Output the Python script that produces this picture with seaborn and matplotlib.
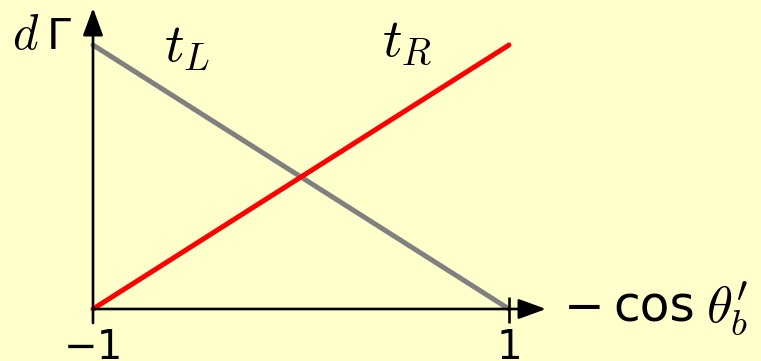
import matplotlib
matplotlib.use("Agg")
import matplotlib.pyplot as plt
import seaborn as sns
import pandas as pd

# Decay-rate shape versus -cos(theta'_b) for the two top helicities
x_vals = [-1, 1]
t_left = [1, 0]
t_right = [0, 1]
tick_vals = [-1, 1]
tick_labels = ["\u22121", "1"]

df = pd.DataFrame({
    "x": x_vals * 2,
    "rate": t_left + t_right,
    "helicity": ["L"] * 2 + ["R"] * 2,
})

BG = "#FFFFCC"
W, H = 761, 361
X0, Y0 = 93, 309          # pixel position of the origin (-1, 0)
SX, SY = 208, 264         # pixels per data unit


def px(u, v):
    """Pixel position -> data coordinates."""
    return -1 + (u - X0) / SX, (Y0 - v) / SY


sns.set_theme(style="white")
plt.rcParams["mathtext.fontset"] = "cm"
plt.rcParams["text.color"] = "black"

fig = plt.figure(figsize=(W / 100, H / 100), dpi=100, facecolor=BG)
ax = fig.add_axes([0, 0, 1, 1])
ax.set_facecolor(BG)
ax.axis("off")

sns.lineplot(data=df, x="x", y="rate", hue="helicity",
             palette={"L": "#808080", "R": "#FF0000"},
             linewidth=3.6, legend=False, ax=ax, zorder=3)

x_lo, y_hi = px(0, 0)
x_hi, y_lo = px(W, H)
ax.set_xlim(x_lo, x_hi)
ax.set_ylim(y_lo, y_hi)

axis_kw = dict(arrowstyle="-|>,head_length=0.6,head_width=0.22",
               color="black", lw=1.9, mutation_scale=28,
               shrinkA=0, shrinkB=0)
# horizontal axis
ax.annotate("", xy=px(546, Y0), xytext=(-1, 0), arrowprops=axis_kw, zorder=4)
# vertical axis
ax.annotate("", xy=px(X0, 8), xytext=px(X0, 323), arrowprops=axis_kw, zorder=4)

# tick mark at x = 1
for xv in tick_vals[1:]:
    ax.plot([xv, xv], [px(0, 297)[1], px(0, 323)[1]], color="black", lw=1.9,
            solid_capstyle="butt", zorder=4)

for xv, lab in zip(tick_vals, tick_labels):
    ax.text(xv, px(0, 359)[1], lab, ha="center", va="baseline", fontsize=29,
            family="DejaVu Sans", color="black")

# vertical axis label: d Gamma
ax.text(*px(12, 49), "$d$", fontsize=35, ha="left", va="baseline")
ax.text(*px(47, 49), "\u0393", fontsize=31, ha="left", va="baseline",
        family="DejaVu Sans")

# horizontal axis label: -cos theta'_b
ax.text(*px(564, 322), "\u2212", fontsize=35, ha="left", va="baseline",
        family="DejaVu Sans")
ax.text(*px(613, 322), "cos", fontsize=35, ha="left", va="baseline",
        family="DejaVu Sans")
ax.text(*px(706, 322), r"$\theta_b^{\prime}$", fontsize=38, ha="left",
        va="baseline")

# line labels
ax.text(*px(164, 62), "$t_L$", fontsize=39, ha="left", va="baseline")
ax.text(*px(382, 55), "$t_R$", fontsize=39, ha="left", va="baseline")

fig.savefig("out.png", dpi=100, facecolor=BG)
